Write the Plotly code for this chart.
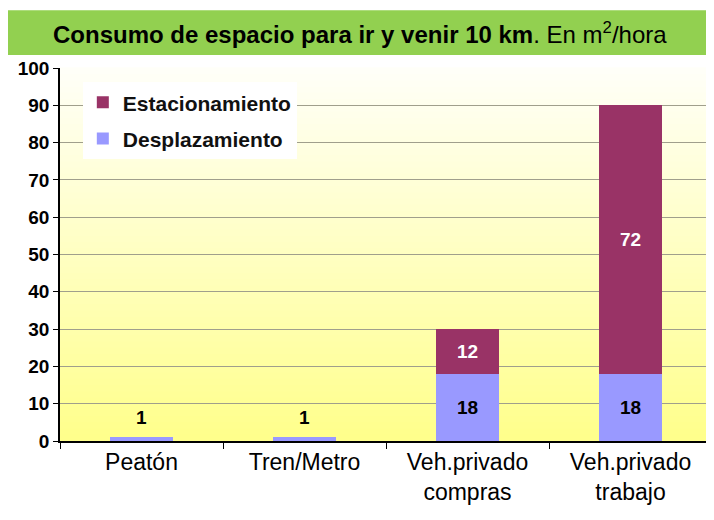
import plotly.graph_objects as go

categories = ["Peatón", "Tren/Metro", "Veh.privado<br>compras", "Veh.privado<br>trabajo"]
desplazamiento = [1, 1, 18, 18]
estacionamiento = [0, 0, 12, 72]
y_ticks = list(range(0, 101, 10))

C_EST = "#993366"
C_DES = "#9999FF"
ARIAL = "Liberation Sans, Arial, sans-serif"

fig = go.Figure()
fig.add_trace(go.Bar(name="Desplazamiento", x=categories, y=desplazamiento, legendgroup="d",
                     legendrank=2, marker=dict(color=C_DES, line=dict(width=0))))
fig.add_trace(go.Bar(name="Estacionamiento", x=categories, y=estacionamiento, legendgroup="e",
                     legendrank=1, marker=dict(color=C_EST, line=dict(width=0))))

annotations = []
for c, d, e in zip(categories, desplazamiento, estacionamiento):
    if d >= 5:
        annotations.append(dict(x=c, y=d / 2, text=f"<b>{d}</b>", showarrow=False,
                                font=dict(family=ARIAL, size=19, color="black")))
    else:
        annotations.append(dict(x=c, y=d + 2, text=f"<b>{d}</b>", showarrow=False,
                                yanchor="bottom", font=dict(family=ARIAL, size=19, color="black")))
    if e > 0:
        annotations.append(dict(x=c, y=d + e / 2, text=f"<b>{e}</b>", showarrow=False,
                                font=dict(family=ARIAL, size=19, color="white")))

# Title bar text
annotations.append(dict(xref="paper", yref="paper", x=0.46, y=1.093, showarrow=False,
                        text="<b>Consumo de espacio para ir y venir 10 km</b>. En m<sup>2</sup>/hora",
                        font=dict(family=ARIAL, size=24, color="black"),
                        xanchor="center", yanchor="middle"))

shapes = []
# gradient background (white at top -> yellow at bottom)
n = 60
top = (255, 255, 248)
bot = (255, 255, 140)
for i in range(n):
    t = i / (n - 1)
    r = int(bot[0] + (top[0] - bot[0]) * t)
    g = int(bot[1] + (top[1] - bot[1]) * t)
    b = int(bot[2] + (top[2] - bot[2]) * t)
    shapes.append(dict(type="rect", xref="paper", yref="paper", layer="below",
                       x0=0, x1=1, y0=i / n, y1=(i + 1) / n + 0.002,
                       fillcolor=f"rgb({r},{g},{b})", line=dict(width=0)))
# title bar
shapes.append(dict(type="rect", xref="paper", yref="paper", layer="below",
                   x0=-0.0798, x1=1.0, y0=1.035, y1=1.155,
                   fillcolor="#92D050", line=dict(width=0)))
# right border
shapes.append(dict(type="line", xref="paper", yref="paper", x0=1, x1=1, y0=0, y1=1,
                   line=dict(color="#444444", width=1)))

fig.update_layout(
    width=706, height=512,
    margin=dict(l=52, r=2, t=60, b=79),
    paper_bgcolor="white", plot_bgcolor="rgba(0,0,0,0)",
    barmode="stack", bargap=0.61,
    showlegend=True,
    legend=dict(x=0.035, y=0.962, xanchor="left", yanchor="top", traceorder="grouped",
                bgcolor="white", font=dict(family=ARIAL, size=21, color="#111111", weight="bold"),
                itemwidth=30, tracegroupgap=6),
    annotations=annotations, shapes=shapes,
    xaxis=dict(showline=True, linecolor="black", linewidth=1.5, ticks="outside",
               tickson="boundaries", ticklen=6, tickcolor="black",
               tickfont=dict(family=ARIAL, size=23, color="black"), showgrid=False),
    yaxis=dict(range=[0, 100], tickvals=y_ticks, showline=True, linecolor="black", linewidth=1.5,
               ticks="outside", ticklen=5, tickcolor="black",
               tickfont=dict(family=ARIAL, size=19, color="black", weight="bold"),
               showgrid=True, gridcolor="#a09f8c", gridwidth=1, zeroline=False),
)

fig.write_html("out.html")
